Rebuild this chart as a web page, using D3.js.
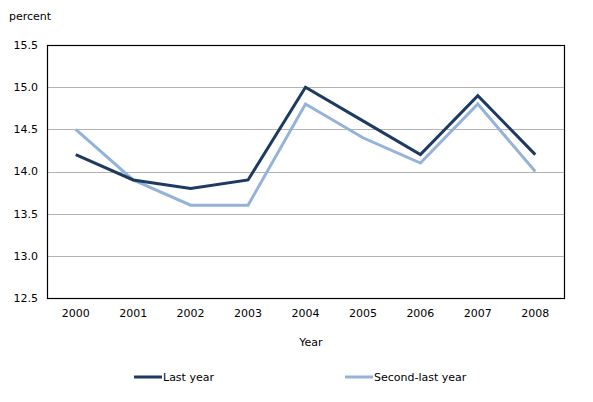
<!DOCTYPE html>
<html>
<head>
<meta charset="utf-8">
<script src="https://cdn.jsdelivr.net/npm/d3@7"></script>
<style>
  body { margin: 0; background: #fff; }
  text { font-family: "DejaVu Sans", Verdana, sans-serif; font-size: 11px; fill: #000; }
</style>
</head>
<body>
<svg id="chart" width="593" height="402"></svg>
<script>
// chart data
const years = ["2000", "2001", "2002", "2003", "2004", "2005", "2006", "2007", "2008"];
const lastYear = [14.2, 13.9, 13.8, 13.9, 15.0, 14.6, 14.2, 14.9, 14.2];
const secondLastYear = [14.5, 13.9, 13.6, 13.6, 14.8, 14.4, 14.1, 14.8, 14.0];
const yTicks = [12.5, 13.0, 13.5, 14.0, 14.5, 15.0, 15.5];
const seriesNames = ["Last year", "Second-last year"];
const seriesColors = ["#1d3a60", "#93b3d9"];

const svg = d3.select("#chart");
// plot area bounds
const plotLeft = 47, plotRight = 564, plotTop = 45, plotBottom = 298;

const x = d3.scalePoint().domain(years).range([plotLeft, plotRight]).padding(0.5);
const y = d3.scaleLinear().domain([12.5, 15.5]).range([plotBottom, plotTop]);

// gridlines
svg.append("g").selectAll("line")
    .data(yTicks.slice(1, -1))
    .join("line")
    .attr("x1", plotLeft).attr("x2", plotRight)
    .attr("y1", d => Math.round(y(d)) + 0.5).attr("y2", d => Math.round(y(d)) + 0.5)
    .attr("stroke", "#b3b3b3").attr("stroke-width", 1);

// y tick labels
svg.append("g").selectAll("text")
    .data(yTicks)
    .join("text")
    .attr("x", 38).attr("y", d => y(d))
    .attr("text-anchor", "end")
    .attr("dy", "0.35em")
    .text(d => d.toFixed(1));

// x tick labels
svg.append("g").selectAll("text")
    .data(years)
    .join("text")
    .attr("x", d => x(d)).attr("y", 317)
    .attr("text-anchor", "middle")
    .text(d => d);

// lines, second-last year drawn first so last year sits on top
const line = d3.line().x((d, i) => x(years[i])).y(d => y(d));
[secondLastYear, lastYear].forEach((s, k) => {
    svg.append("path")
        .datum(s)
        .attr("d", line)
        .attr("fill", "none")
        .attr("stroke", seriesColors[1 - k])
        .attr("stroke-width", 3);
});

// plot frame
svg.append("rect")
    .attr("x", plotLeft + 0.5).attr("y", plotTop + 0.5)
    .attr("width", plotRight - plotLeft).attr("height", plotBottom - plotTop)
    .attr("fill", "none").attr("stroke", "#000").attr("stroke-width", 1.2);

// axis titles
svg.append("text").attr("x", 9).attr("y", 20).text("percent");
svg.append("text").attr("x", 311).attr("y", 346).attr("text-anchor", "middle").text("Year");

// legend
const legendX = [134, 345];
const legend = svg.append("g").selectAll("g")
    .data(seriesNames)
    .join("g")
    .attr("transform", (d, i) => `translate(${legendX[i]},377)`);
legend.append("line")
    .attr("x1", 0).attr("x2", 28)
    .attr("stroke", (d, i) => seriesColors[i]).attr("stroke-width", 3);
legend.append("text")
    .attr("x", 29).attr("dy", "0.35em")
    .text(d => d);
</script>
</body>
</html>
